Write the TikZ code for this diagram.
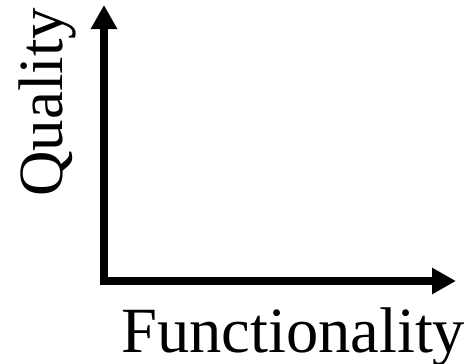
\documentclass[tikz,border=0pt]{standalone}
\usepackage{fontspec}
\setmainfont{Liberation Serif}
\usetikzlibrary{arrows.meta,positioning}
\tikzset{
  axis/.style={{Triangle[length=24pt,width=25pt]}-{Triangle[length=24pt,width=25pt]},line width=7.5pt,draw=black,line join=miter},
  lbl/.style={inner sep=0pt,font=\fontsize{63}{70}\selectfont},
}
\begin{document}
\begin{tikzpicture}[x=1pt,y=-1pt]
\useasboundingbox (0,0) rectangle (467,364);
\coordinate (o) at (104,281);
\coordinate (ytop) at (104,5);
\coordinate (xend) at (456,281);
\draw[axis] (ytop) -- (o) -- (xend);
\node[lbl, font=\fontsize{64.5}{70}\selectfont, anchor=base west] (fun) at (121,352) {Functionality};
\node[lbl, anchor=base west, rotate=90] (qual) at (63,197) {Quality};
\end{tikzpicture}
\end{document}
